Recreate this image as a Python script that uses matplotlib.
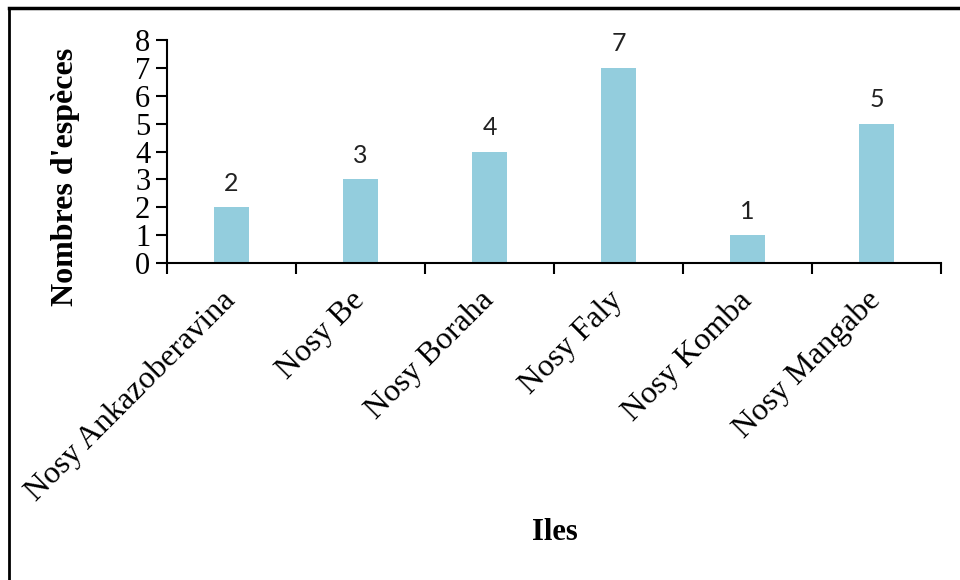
import matplotlib
matplotlib.use("Agg")
import matplotlib.pyplot as plt
from matplotlib.lines import Line2D
import numpy as np

# Species counts per island
iles = ["Nosy Ankazoberavina", "Nosy Be", "Nosy Boraha", "Nosy Faly",
        "Nosy Komba", "Nosy Mangabe"]
especes = [2, 3, 4, 7, 1, 5]
y_ticks = [0, 1, 2, 3, 4, 5, 6, 7, 8]

W, H = 960, 580
fig = plt.figure(figsize=(W / 100, H / 100), dpi=100)
ax = fig.add_axes([167 / W, 1 - 263 / H, (941 - 167) / W, (263 - 40) / H])

serif = "Liberation Serif"
x = np.arange(len(iles))
bars = ax.bar(x, especes, width=0.27, color="#93CDDD", zorder=2)

for rect, v in zip(bars, especes):
    ax.annotate(str(v), (rect.get_x() + rect.get_width() / 2, v),
                xytext=(0, 9), textcoords="offset points",
                ha="center", va="bottom", fontsize=18, family="Lato",
                color="#222222")

ax.set_xlim(-0.5, len(iles) - 0.5)
ax.set_ylim(0, 8)
ax.set_yticks(y_ticks)
ax.set_yticklabels([str(t) for t in y_ticks], family=serif, fontsize=22)

ax.set_xticks(x)
ax.set_xticklabels(iles, family=serif, fontsize=23, rotation=45,
                   ha="right", rotation_mode="anchor", va="center")
ax.set_xticks(np.arange(-0.5, len(iles)), minor=True)
ax.tick_params(axis="x", which="major", length=0, pad=24)
ax.tick_params(axis="x", which="minor", length=8, width=1.5, direction="out")
ax.tick_params(axis="y", length=8, width=1.5, direction="out", pad=4)

for s in ["top", "right"]:
    ax.spines[s].set_visible(False)
for s in ["left", "bottom"]:
    ax.spines[s].set_linewidth(1.5)

fig.text(65 / W, 1 - 177 / H, "Nombres d'espèces", rotation=90,
         ha="center", va="center", family=serif, fontweight="bold", fontsize=23)
fig.text(555 / W, 1 - 533 / H, "Iles", ha="center", va="center",
         family=serif, fontweight="bold", fontsize=22)

# frame lines along the left and top edges of the figure
fig.add_artist(Line2D([9 / W, 9 / W], [0, 1 - 8 / H], color="black", lw=2,
                      transform=fig.transFigure))
fig.add_artist(Line2D([9 / W, 1], [1 - 8 / H, 1 - 8 / H], color="black", lw=2.5,
                      transform=fig.transFigure))

fig.savefig("out.png", dpi=100)
